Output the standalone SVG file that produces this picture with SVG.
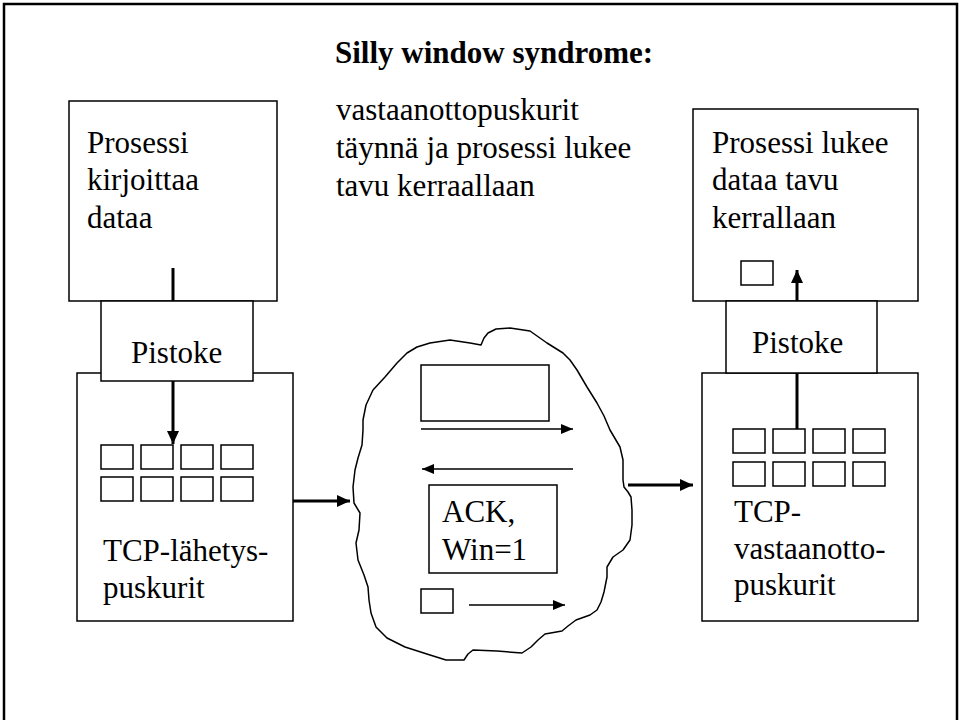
<svg xmlns="http://www.w3.org/2000/svg" width="963" height="720" viewBox="0 0 963 720">
<defs>
<style>
text{font-size:31px;fill:#000}
.b{fill:#fff;stroke:#000;stroke-width:1.5}
.thin{stroke:#000;stroke-width:1.5;fill:none}
.thick{stroke:#000;stroke-width:3;fill:none}
</style>
<marker id="ah" viewBox="0 0 12 10" refX="12" refY="5" markerWidth="12" markerHeight="10" markerUnits="userSpaceOnUse" orient="auto"><path d="M0,0L12,5L0,10z" fill="#000"/></marker>
<marker id="ahb" viewBox="0 0 13 12" refX="13" refY="6" markerWidth="13" markerHeight="12" markerUnits="userSpaceOnUse" orient="auto"><path d="M0,0L13,6L0,12z" fill="#000"/></marker>
</defs>
<rect x="0" y="0" width="963" height="720" fill="#fff"/>
<path d="M4,730V4H957V730" fill="none" stroke="#000" stroke-width="2.5"/>
<g font-family="Liberation Serif, DejaVu Serif, serif">
<g id="title"><text x="335" y="63" font-weight="bold">Silly window syndrome:</text></g>
<g id="note"><text x="336" y="120">vastaanottopuskurit</text><text x="336" y="158">täynnä ja prosessi lukee</text><text x="336" y="196">tavu kerraallaan</text></g>
<g id="sender-process"><rect class="b" x="69" y="101" width="208" height="200"/><text x="87" y="153">Prosessi</text><text x="87" y="190">kirjoittaa</text><text x="87" y="228">dataa</text></g>
<g id="sender-tcp"><rect class="b" x="77" y="373" width="216" height="248"/>
<g class="b"><rect x="101" y="445" width="32" height="24"/><rect x="141" y="445" width="32" height="24"/><rect x="181" y="445" width="32" height="24"/><rect x="221" y="445" width="32" height="24"/><rect x="101" y="477" width="32" height="24"/><rect x="141" y="477" width="32" height="24"/><rect x="181" y="477" width="32" height="24"/><rect x="221" y="477" width="32" height="24"/></g>
<text x="103" y="561">TCP-lähetys-</text><text x="103" y="598">puskurit</text></g>
<g id="sender-socket"><rect class="b" x="101" y="301" width="152" height="80"/><text x="131" y="363">Pistoke</text></g>
<g id="receiver-process"><rect class="b" x="693" y="109" width="225" height="192"/><text x="712" y="153">Prosessi lukee</text><text x="712" y="190">dataa tavu</text><text x="712" y="228">kerrallaan</text><rect class="b" x="741" y="261" width="32" height="24"/></g>
<g id="receiver-tcp"><rect class="b" x="702" y="373" width="216" height="248"/>
<g class="b"><rect x="733" y="429" width="32" height="24"/><rect x="773" y="429" width="32" height="24"/><rect x="813" y="429" width="32" height="24"/><rect x="853" y="429" width="32" height="24"/><rect x="733" y="462" width="32" height="24"/><rect x="773" y="462" width="32" height="24"/><rect x="813" y="462" width="32" height="24"/><rect x="853" y="462" width="32" height="24"/></g>
<text x="734" y="522">TCP-</text><text x="734" y="559">vastaanotto-</text><text x="734" y="595">puskurit</text></g>
<g id="receiver-socket"><rect class="b" x="726" y="301" width="151" height="72"/><text x="752" y="353">Pistoke</text></g>
<g id="network">
<path class="thin" stroke-linejoin="round" d="M481,345L484,338L488,333L496,329L510,328L530,331L547,343L563,353L570,360L577,370L587,387L597,403L604,416L610,430L620,447L623,460L623,480L624,487L628,492L631,497L632,510L632,525L630,540L623,550L613,557L607,567L607,577L604,592L601,602L597,610L590,615L576,620L568,626L562,631L545,634L538,640L531,647L522,653L497,651L473,650L468,654L464,660L446,660L430,655L405,647L387,638L376,627L371,613L369,600L368,587L364,575L358,560L356,543L359,530L360,513L354,503L353,487L355,470L358,458L362,445L363,430L363,420L366,405L373,390L385,377L397,363L407,353L417,347L430,343L450,340L470,343Z"/>
<rect class="b" x="421" y="365" width="128" height="56"/>
<rect class="b" x="429" y="485" width="128" height="88"/>
<text x="442" y="522">ACK,</text><text x="442" y="560">Win=1</text>
<rect class="b" x="421" y="589" width="32" height="24"/>
</g>
</g>
<g id="connectors">
<line class="thick" x1="173" y1="268" x2="173" y2="301"/>
<line class="thick" x1="173" y1="381" x2="173" y2="444" marker-end="url(#ahb)"/>
<line class="thick" x1="293" y1="501" x2="350" y2="501" marker-end="url(#ahb)"/>
<line class="thick" x1="628" y1="485" x2="693" y2="485" marker-end="url(#ahb)"/>
<line class="thick" x1="797" y1="429" x2="797" y2="373"/>
<line class="thick" x1="797" y1="301" x2="797" y2="270" marker-end="url(#ahb)"/>
<line class="thin" x1="421" y1="429" x2="573" y2="429" marker-end="url(#ah)"/>
<line class="thin" x1="573" y1="469" x2="422" y2="469" marker-end="url(#ah)"/>
<line class="thin" x1="469" y1="605" x2="565" y2="605" marker-end="url(#ah)"/>
</g>
</svg>
